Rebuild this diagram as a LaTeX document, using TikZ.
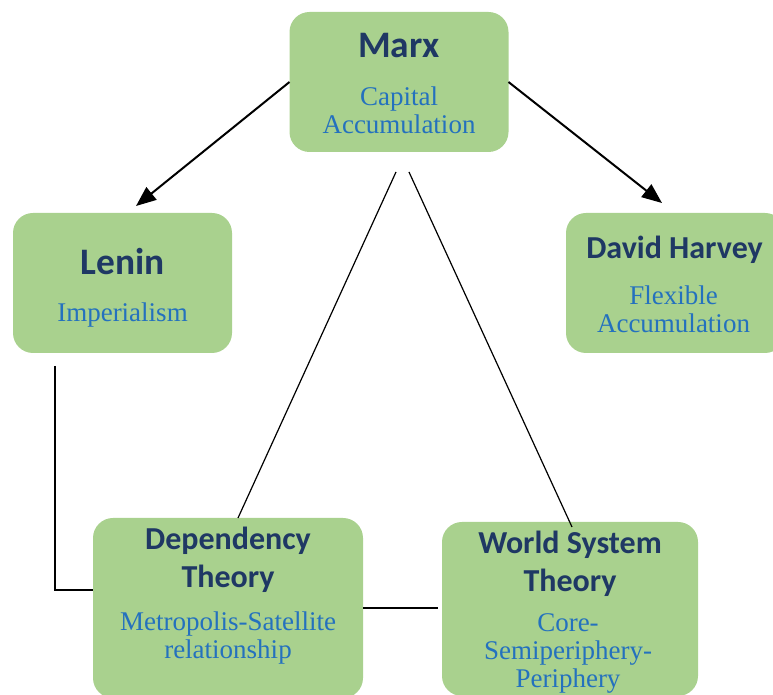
\documentclass[tikz,border=0pt]{standalone}
\usepackage{fontspec}
\setmainfont{Liberation Serif}
\newfontfamily\headfont{Carlito}
\usetikzlibrary{positioning}
\usetikzlibrary{arrows.meta}

\definecolor{boxgreen}{RGB}{169,209,142}
\definecolor{headblue}{RGB}{31,56,100}
\definecolor{subblue}{RGB}{36,113,190}

\begin{document}
\begin{tikzpicture}[
            x = 0.5pt,
            y = -0.5pt,
            box/.style = {
                fill = boxgreen,
                rounded corners = 10pt,
                minimum width = #1,
                minimum height = 70pt,
                inner sep = 0pt,
                outer sep = 0pt
            },
            box/.default = 109.5pt,
            head/.style = {
                font = \headfont\bfseries\fontsize{16}{19}\selectfont,
                text = headblue,
                align = center,
                inner sep = 0pt
            },
            bighead/.style = {
                head,
                font = \headfont\bfseries\fontsize{18.7}{22}\selectfont
            },
            sub/.style = {
                font = \fontsize{13.5}{14}\selectfont,
                text = subblue,
                align = center,
                inner sep = 0pt
            },
            arr/.style = {-{Triangle[length=10pt, width=8pt]}, line width = 1pt},
            link/.style = {line width = 0.6pt}
            ]
            \useasboundingbox (0,0) rectangle (773,695);
            \clip (0,0) rectangle (773,695);

            % boxes
            \node[box] (marx) at (399,82) {};
            \node[box] (lenin) at (122.5,283) {};
            \node[box] (harvey) at (675.5,283) {};
            \node[box=135pt, minimum height=90pt] (dep) at (228,608) {};
            \node[box=128pt, minimum height=87pt] (world) at (570,609) {};

            % texts
            \node[bighead, anchor=north, below=10.5pt of marx.north] (marxT) {Marx};
            \node[sub, anchor=north, below=37pt of marx.north] (marxS) {Capital\\Accumulation};
            \node[bighead, anchor=north, below=17.5pt of lenin.north] (leninT) {Lenin};
            \node[sub, anchor=north, below=44.5pt of lenin.north] (leninS) {Imperialism};
            \node[head, anchor=north, below=11.5pt of harvey.north, xshift=-0.5pt] (harveyT) {David Harvey};
            \node[sub, anchor=north, below=36pt of harvey.north, xshift=-1pt] (harveyS) {Flexible\\Accumulation};
            \node[head, anchor=north, below=4.5pt of dep.north] (depT) {Dependency\\Theory};
            \node[sub, anchor=north, below=46.5pt of dep.north] (depS) {Metropolis-Satellite\\relationship};
            \node[head, anchor=north, below=4.5pt of world.north] (worldT) {World System\\Theory};
            \node[sub, anchor=north, below=45.5pt of world.north, xshift=-1pt] (worldS) {Core-\\Semiperiphery-\\Periphery};

            % connectors
            \draw[arr] (marx.west) -- ([xshift=6.75pt, yshift=3.5pt]lenin.north);
            \draw[arr] (marx.east) -- ([xshift=-6.75pt, yshift=5pt]harvey.north);
            \draw[link] ([xshift=-1.5pt, yshift=-10pt]marx.south) -- ([xshift=5pt]dep.north);
            \draw[link] ([xshift=5pt, yshift=-10pt]marx.south) -- ([xshift=1pt, yshift=-2.5pt]world.north);
            \draw[link] ([xshift=-33.75pt, yshift=-6.5pt]lenin.south) |- ([yshift=9pt]dep.west);
            \draw[link, shorten >=2pt] (dep.east) -- (dep.east -| world.west);
        \end{tikzpicture}
\end{document}
